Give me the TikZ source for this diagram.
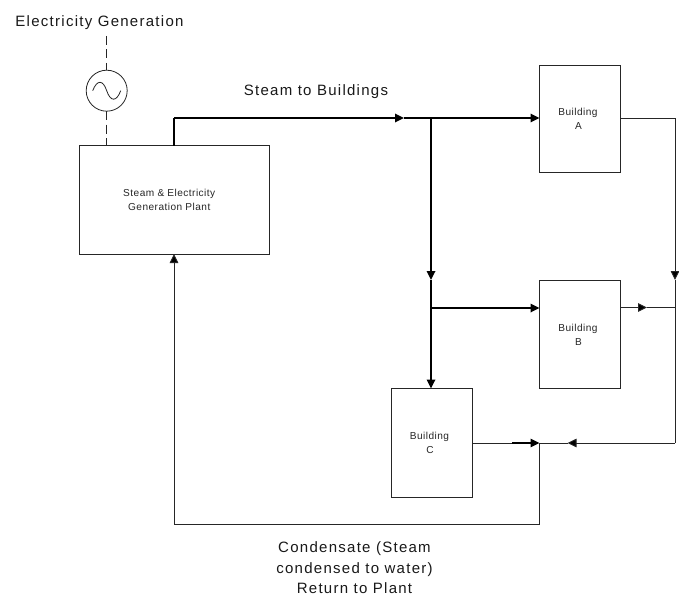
\documentclass[tikz,border=0pt]{standalone}
\usepackage{fontspec}
\setmainfont[LetterSpace=8.5]{Liberation Sans}
\newfontfamily\boxfont[LetterSpace=4.5]{Liberation Sans}
\usetikzlibrary{arrows.meta}
\tikzset{
  x=1pt,y=-1pt,
  boxnode/.style={draw=black!85,line width=0.9pt,inner sep=0pt,outer sep=0pt,align=center,font=\boxfont\fontsize{10.1}{14}\selectfont,text=black!85,anchor=north west},
  gensym/.style={circle,draw=black!85,line width=0.8pt,minimum size=41pt,inner sep=0pt,outer sep=0pt},
  heavy/.style={draw=black,line width=1.7pt},
  thinline/.style={draw=black!85,line width=0.9pt},
  dashline/.style={draw=black!85,line width=0.9pt,dash pattern=on 9pt off 4.5pt},
  tip/.style={-{Triangle[length=9pt,width=8.5pt,fill=black]}},
  lab/.style={font=\fontsize{15}{20.5}\selectfont,align=center,inner sep=0pt,text=black!90}
}
\begin{document}
\begin{tikzpicture}
\useasboundingbox[fill=white] (0,0) rectangle (679,599);
\node[boxnode,minimum width=189.5pt,minimum height=108.5pt] (plant) at (79.5,145.5) {\hspace*{-10pt}Steam \& Electricity\\\hspace*{-10pt}Generation Plant};
\node[boxnode,minimum width=81pt,minimum height=107pt] (bA) at (539.5,65) {\hspace*{-4pt}Building\\\hspace*{-3pt}A};
\node[boxnode,minimum width=81pt,minimum height=108pt] (bB) at (539.5,280.5) {\hspace*{-4pt}Building\\\hspace*{-3pt}B};
\node[boxnode,minimum width=81pt,minimum height=108.5pt] (bC) at (391,388.5) {\hspace*{-4pt}Building\\\hspace*{-3pt}C};
\node[gensym] (gen) at (106.7,90.7) {};
\node[lab] (elec) at (99.5,22.5) {Electricity Generation};
\node[lab] (steam) at (316,91.5) {Steam to Buildings};
\node[lab] (cond) at (354.5,568) {Condensate (Steam\\condensed to water)\\Return to Plant};
% generator sine wave
\draw[black!85,line width=0.8pt] (92.7,90.7) .. controls (97,79.5) and (103,79.5) .. (106.7,90.7) .. controls (110.5,102) and (116.5,102) .. (120.7,90.7);
% dashed electricity lines
\coordinate (elecend) at (106.7,36);
\draw[dashline] (elecend) -- (gen.north);
\draw[dashline] (gen.south) -- (gen.south |- plant.north);
% steam
\coordinate (c1) at (174,118);
\coordinate (m1) at (404,118);
\coordinate (j1) at (431,118);
\coordinate (j2) at (431,280);
\coordinate (j3) at (431,308);
\draw[heavy] (c1 |- plant.north) -- (c1);
\draw[heavy,tip] (c1) -- (m1);
\draw[heavy] (m1) -- (j1);
\draw[heavy,tip] (j1) -- (j1 -| bA.west);
\draw[heavy,tip] (j1) -- (j2);
\draw[heavy] (j2) -- (j3);
\draw[heavy,tip] (j3) -- (j3 -| bB.west);
\draw[heavy,tip] (j3) -- (j3 |- bC.north);
% condensate
\coordinate (r1) at (675,118);
\coordinate (r2) at (675,280);
\coordinate (r3) at (675,443);
\coordinate (m2) at (647,307.5);
\coordinate (m3) at (567.5,443);
\coordinate (m4) at (512,443);
\coordinate (j4) at (539.5,443);
\coordinate (c2) at (539.5,524);
\coordinate (c3) at (174,524);
\draw[thinline] (r1 -| bA.east) -- (r1);
\draw[thinline,tip] (r1) -- (r2);
\draw[thinline] (r2) -- (r3);
\draw[thinline,tip] (r3) -- (m3);
\draw[thinline] (m3) -- (j4);
\draw[thinline,tip] (m2 -| bB.east) -- (m2);
\draw[thinline] (m2) -- (m2 -| r1);
\draw[thinline] (bC.east |- j4) -- (m4);
\draw[heavy,tip,line width=1.3pt] (m4) -- (j4);
\draw[thinline] (j4) -- (c2) -- (c3);
\draw[thinline,tip] (c3) -- (c3 |- plant.south);
\end{tikzpicture}
\end{document}
